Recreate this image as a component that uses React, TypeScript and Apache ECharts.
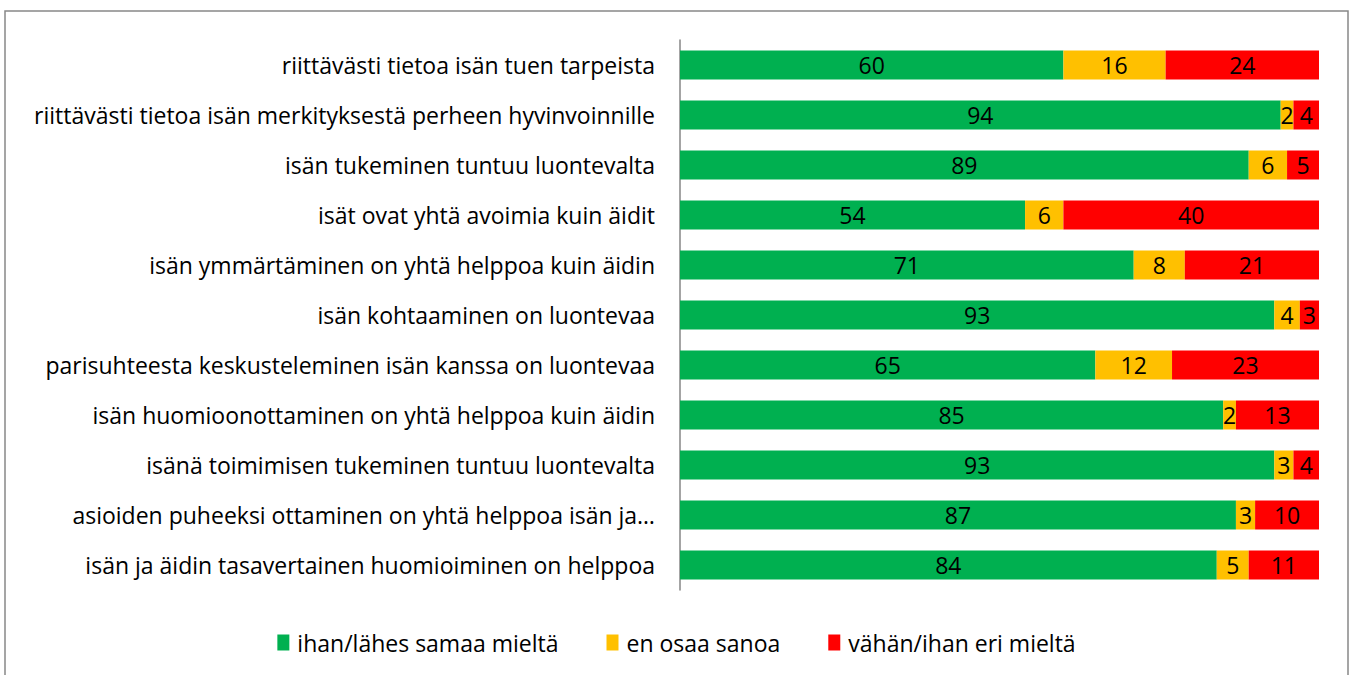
import React, { useEffect, useRef } from "react";
import * as echarts from "echarts";

const categories = [
  "riittävästi tietoa isän tuen tarpeista",
  "riittävästi tietoa isän merkityksestä perheen hyvinvoinnille",
  "isän tukeminen tuntuu luontevalta",
  "isät ovat yhtä avoimia kuin äidit",
  "isän ymmärtäminen on yhtä helppoa kuin äidin",
  "isän kohtaaminen on luontevaa",
  "parisuhteesta keskusteleminen isän kanssa on luontevaa",
  "isän huomioonottaminen on yhtä helppoa kuin äidin",
  "isänä toimimisen tukeminen tuntuu luontevalta",
  "asioiden puheeksi ottaminen on yhtä helppoa isän ja…",
  "isän ja äidin tasavertainen huomioiminen on helppoa",
];
const agree = [60, 94, 89, 54, 71, 93, 65, 85, 93, 87, 84];
const unsure = [16, 2, 6, 6, 8, 4, 12, 2, 3, 3, 5];
const disagree = [24, 4, 5, 40, 21, 3, 23, 13, 4, 10, 11];
const seriesNames = ["ihan/lähes samaa mieltä", "en osaa sanoa", "vähän/ihan eri mieltä"];
const colors = ["#00B050", "#FFC000", "#FF0000"];

const FONT = "Open Sans";
const FS = 23;

export default function App() {
  const ref = useRef<HTMLDivElement>(null);
  useEffect(() => {
    if (!ref.current) return;
    const chart = echarts.init(ref.current, null, { renderer: "svg" });
    const values = [agree, unsure, disagree];
    chart.setOption({
      animation: false,
      textStyle: { fontFamily: FONT },
      graphic: [
        {
          type: "rect",
          shape: { x: 5, y: 11, width: 1343, height: 700 },
          style: { fill: "none", stroke: "#888888", lineWidth: 1.5 },
          silent: true,
        },
      ],
      grid: { left: 680, right: 34, top: 40, bottom: 85 },
      xAxis: { type: "value", min: 0, max: 100, show: false },
      yAxis: {
        type: "category",
        inverse: true,
        data: categories,
        axisLine: { show: true, lineStyle: { color: "#868686", width: 1.5 } },
        axisTick: { show: false },
        axisLabel: { color: "#000", fontSize: FS, fontFamily: FONT, margin: 25 },
      },
      legend: {
        bottom: 16,
        left: "center",
        itemWidth: 12,
        itemHeight: 16,
        itemGap: 48,
        icon: "rect",
        textStyle: { color: "#000", fontSize: FS, fontFamily: FONT, padding: [0, 0, 0, 3] },
        data: seriesNames,
      },
      series: seriesNames.map((name, i) => ({
        name,
        type: "bar",
        stack: "total",
        barWidth: 29,
        data: values[i],
        itemStyle: { color: colors[i] },
        label: {
          show: true,
          position: "inside",
          color: "#000",
          fontSize: FS,
          fontFamily: FONT,
        },
      })),
    });
    return () => chart.dispose();
  }, []);
  return (
    <div
      ref={ref}
      style={{ position: "absolute", left: 0, top: 0, width: 1353, height: 675 }}
    />
  );
}
